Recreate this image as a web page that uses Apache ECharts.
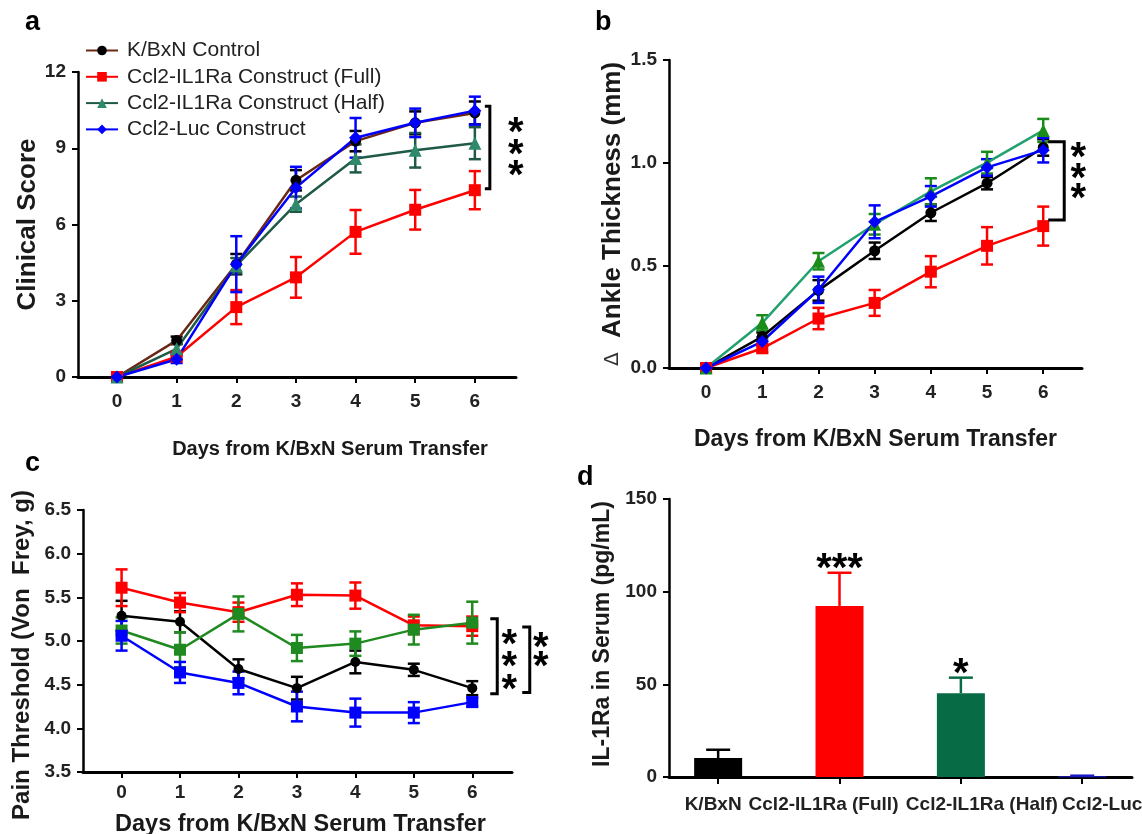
<!DOCTYPE html>
<html>
<head>
<meta charset="utf-8">
<script src="https://cdn.jsdelivr.net/npm/echarts@6/dist/echarts.min.js"></script>
<style>
  html, body { margin: 0; padding: 0; background: #fff; }
  #chart { width: 1142px; height: 834px; }
</style>
</head>
<body>
<div id="chart"></div>
<script>
// days after serum transfer
var days = [0, 1, 2, 3, 4, 5, 6];

// a: clinical score
var aControl = [0, 1.44, 4.44, 7.74, 9.28, 10.0, 10.39];
var aControlErr = [0, 0.15, 0.4, 0.4, 0.4, 0.45, 0.45];
var aFull = [0, 0.8, 2.75, 3.92, 5.71, 6.58, 7.35];
var aFullErr = [0, 0.15, 0.67, 0.8, 0.86, 0.78, 0.75];
var aHalf = [0, 1.11, 4.38, 6.8, 8.6, 8.92, 9.2];
var aHalfErr = [0, 0.2, 0.3, 0.3, 0.55, 0.68, 0.63];
var aLuc = [0, 0.7, 4.44, 7.45, 9.41, 10.0, 10.48];
var aLucErr = [0, 0.15, 1.1, 0.82, 0.78, 0.56, 0.55];

// b: delta ankle thickness (mm)
var bControl = [0, 0.153, 0.378, 0.571, 0.756, 0.9, 1.074];
var bControlErr = [0, 0.02, 0.05, 0.04, 0.04, 0.03, 0.04];
var bFull = [0, 0.096, 0.241, 0.317, 0.469, 0.595, 0.691];
var bFullErr = [0.02, 0.02, 0.052, 0.063, 0.076, 0.091, 0.095];
var bHalf = [0, 0.22, 0.52, 0.7, 0.86, 1.0, 1.157];
var bHalfErr = [0, 0.037, 0.04, 0.05, 0.064, 0.053, 0.056];
var bLuc = [0, 0.129, 0.381, 0.712, 0.836, 0.977, 1.061];
var bLucErr = [0, 0.02, 0.064, 0.08, 0.05, 0.04, 0.06];

// c: pain threshold (von frey, g)
var cControl = [5.29, 5.22, 4.68, 4.46, 4.76, 4.67, 4.46];
var cControlErr = [0.17, 0.12, 0.11, 0.13, 0.13, 0.07, 0.08];
var cFull = [5.61, 5.44, 5.33, 5.53, 5.52, 5.18, 5.17];
var cFullErr = [0.21, 0.11, 0.11, 0.13, 0.15, 0.1, 0.11];
var cHalf = [5.12, 4.9, 5.31, 4.92, 4.97, 5.13, 5.21];
var cHalfErr = [0.15, 0.2, 0.2, 0.15, 0.14, 0.17, 0.24];
var cLuc = [5.06, 4.64, 4.52, 4.25, 4.18, 4.18, 4.3];
var cLucErr = [0.17, 0.12, 0.13, 0.17, 0.16, 0.12, 0.05];

// d: serum IL-1Ra
var dGroups = ['K/BxN', 'Ccl2-IL1Ra (Full)', 'Ccl2-IL1Ra (Half)', 'Ccl2-Luc'];
var dValues = [10.2, 92.3, 45.2, 0.4];
var dErr = [4.5, 17.9, 8.4, 0.3];
var dStars = ['', '***', '*', ''];

var legendNames = ['K/BxN Control', 'Ccl2-IL1Ra Construct (Full)', 'Ccl2-IL1Ra Construct (Half)', 'Ccl2-Luc Construct'];

var FONT = 'Liberation Sans';
var chart = echarts.init(document.getElementById('chart'), null, { renderer: 'canvas' });

function pairs(vals) {
  return vals.map(function (v, i) { return [days[i], v]; });
}

function errSeries(idx, vals, errs, color, capW) {
  return {
    type: 'custom',
    xAxisIndex: idx, yAxisIndex: idx,
    z: 1,
    silent: true,
    encode: { x: 0, y: 1 },
    data: vals.map(function (v, i) { return [days[i], v, errs[i]]; }),
    renderItem: function (params, api) {
      var x = api.value(0), y = api.value(1), e = api.value(2);
      var hi = api.coord([x, y + e]);
      var lo = api.coord([x, y - e]);
      var st = { stroke: color, lineWidth: 2.5, fill: null };
      return {
        type: 'group',
        children: [
          { type: 'line', shape: { x1: hi[0], y1: hi[1], x2: lo[0], y2: lo[1] }, style: st },
          { type: 'line', shape: { x1: hi[0] - capW / 2, y1: hi[1], x2: hi[0] + capW / 2, y2: hi[1] }, style: st },
          { type: 'line', shape: { x1: lo[0] - capW / 2, y1: lo[1], x2: lo[0] + capW / 2, y2: lo[1] }, style: st }
        ]
      };
    }
  };
}

function lineSeries(idx, name, vals, lineColor, markColor, symbol, size) {
  return {
    name: name,
    type: 'line',
    xAxisIndex: idx, yAxisIndex: idx,
    z: 3,
    data: pairs(vals),
    symbol: symbol,
    symbolSize: size,
    showAllSymbol: true,
    lineStyle: { color: lineColor, width: 2.5 },
    itemStyle: { color: markColor, borderWidth: 0 },
    emphasis: { disabled: true }
  };
}

// significance bracket between [x, top] and [x, bottom]
function bracketSeries(idx, x, top, bottom, tickFrom, lineAt, stars, starDx, starDy, starGap) {
  return {
    type: 'custom',
    xAxisIndex: idx, yAxisIndex: idx,
    z: 4,
    silent: true,
    data: [[x, top, bottom]],
    renderItem: function (params, api) {
      var p1 = api.coord([api.value(0), api.value(1)]);
      var p2 = api.coord([api.value(0), api.value(2)]);
      var mid = (p1[1] + p2[1]) / 2 + starDy;
      return {
        type: 'group',
        children: [
          {
            type: 'polyline',
            shape: { points: [[p1[0] + tickFrom, p1[1]], [p1[0] + lineAt, p1[1]], [p1[0] + lineAt, p2[1]], [p1[0] + tickFrom, p2[1]]] },
            style: { stroke: '#000', lineWidth: 3, fill: null }
          },
          {
            type: 'text',
            x: p1[0] + lineAt + starDx, y: mid,
            style: {
              text: stars.split('').join('\n'),
              font: 'bold 40px ' + FONT,
              lineHeight: starGap,
              fill: '#000',
              align: 'center',
              verticalAlign: 'middle'
            }
          }
        ]
      };
    }
  };
}

function xAxisDays(idx, min, max, name, gap, size, margin, pad) {
  return {
    type: 'value', gridIndex: idx, min: min, max: max,
    name: name, nameLocation: 'middle', nameGap: gap,
    nameTextStyle: { fontFamily: FONT, fontWeight: 'bold', fontSize: size, color: '#1a1a1a', padding: pad || 0 },
    splitLine: { show: false },
    axisLine: { onZero: false, lineStyle: { color: '#000', width: 3 } },
    axisTick: { customValues: days, length: 6, lineStyle: { color: '#000', width: 2 } },
    axisLabel: { customValues: days, margin: margin, fontFamily: FONT, fontWeight: 'bold', fontSize: 19, color: '#222' }
  };
}

function yAxisVal(idx, min, max, interval, name, gap, size, fmt, rich, pad) {
  return {
    type: 'value', gridIndex: idx, min: min, max: max, interval: interval,
    name: name, nameLocation: 'middle', nameGap: gap,
    nameTextStyle: { fontFamily: FONT, fontWeight: 'bold', fontSize: size, color: '#1a1a1a', rich: rich, padding: pad || 0 },
    splitLine: { show: false },
    axisLine: { show: true, onZero: false, lineStyle: { color: '#000', width: 2.5 } },
    axisTick: { show: true, length: 6, lineStyle: { color: '#000', width: 2 } },
    axisLabel: { margin: 12, fontFamily: FONT, fontWeight: 'bold', fontSize: 19, color: '#222', formatter: fmt }
  };
}

var deltaRich = { d: { fontFamily: 'DejaVu Sans', fontWeight: 'normal', fontSize: 20, color: '#333' } };

function dLabelStyle(padding) {
  return { fontFamily: FONT, fontWeight: 'bold', fontSize: 19, color: '#222', padding: padding };
}

var option = {
  backgroundColor: '#fff',
  animation: false,
  grid: [
    { left: 78, top: 72, width: 438, height: 305, outerBoundsMode: 'none' },
    { left: 669, top: 60, width: 413, height: 308, outerBoundsMode: 'none' },
    { left: 83, top: 510, width: 429, height: 262, outerBoundsMode: 'none' },
    { left: 669, top: 499, width: 463, height: 278, outerBoundsMode: 'none' }
  ],
  legend: {
    data: legendNames,
    orient: 'vertical',
    left: 85, top: 40,
    padding: 0,
    itemWidth: 32, itemHeight: 12, itemGap: 5.3,
    textStyle: { fontFamily: FONT, fontSize: 21, color: '#222', lineHeight: 19, padding: [0, 0, 0, 4] },
    selectedMode: false
  },
  xAxis: [
    xAxisDays(0, -0.654, 6.69, 'Days from K/BxN Serum Transfer', 62, 20, 15, [0, 0, 0, 66]),
    xAxisDays(1, -0.66, 6.69, 'Days from K/BxN Serum Transfer', 60, 23, 15),
    xAxisDays(2, -0.66, 6.68, 'Days from K/BxN Serum Transfer', 41, 23.5, 11, [0, 0, 0, 6]),
    {
      type: 'value', gridIndex: 3, min: -0.405, max: 3.41,
      splitLine: { show: false },
      axisLine: { onZero: false, lineStyle: { color: '#000', width: 3 } },
      axisTick: { customValues: [0, 1, 2, 3], length: 7, lineStyle: { color: '#000', width: 2 } },
      axisLabel: {
        customValues: [0, 1, 2, 3], margin: 18,
        fontFamily: FONT, fontWeight: 'bold', fontSize: 19, color: '#222',
        formatter: function (v) { var i = Math.round(v); return '{l' + i + '|' + dGroups[i] + '}'; },
        rich: {
          l0: dLabelStyle([0, 10, 0, 0]),
          l1: dLabelStyle([0, 32, 0, 0]),
          l2: dLabelStyle([0, 0, 0, 42]),
          l3: dLabelStyle([0, 0, 0, 40])
        }
      }
    }
  ],
  yAxis: [
    yAxisVal(0, 0, 12, 3, 'Clinical Score', 37, 26),
    yAxisVal(1, 0, 1.5, 0.5, '{d|Δ}  Ankle Thickness (mm)', 43, 26, function (v) { return v.toFixed(1); }, deltaRich),
    yAxisVal(2, 3.5, 6.5, 0.5, 'Pain Threshold (Von  Frey, g)', 49, 24, function (v) { return v.toFixed(1); }, null, [0, 28, 0, 0]),
    yAxisVal(3, 0, 150, 50, 'IL-1Ra in Serum (pg/mL)', 55, 23, null, null, [0, 0, 0, 8])
  ],
  graphic: [
    { type: 'text', left: 25, top: 9, style: { text: 'a', font: 'bold 27px ' + FONT, fill: '#000' } },
    { type: 'text', left: 595, top: 9, style: { text: 'b', font: 'bold 27px ' + FONT, fill: '#000' } },
    { type: 'text', left: 25, top: 450, style: { text: 'c', font: 'bold 27px ' + FONT, fill: '#000' } },
    { type: 'text', left: 577, top: 464, style: { text: 'd', font: 'bold 27px ' + FONT, fill: '#000' } }
  ],
  series: [
    // a
    errSeries(0, aControl, aControlErr, '#000', 12),
    errSeries(0, aFull, aFullErr, '#ff0000', 12),
    errSeries(0, aHalf, aHalfErr, '#1f5a46', 12),
    errSeries(0, aLuc, aLucErr, '#0000ff', 12),
    lineSeries(0, legendNames[0], aControl, '#6a2814', '#000', 'circle', 11),
    lineSeries(0, legendNames[1], aFull, '#ff0000', '#ff0000', 'rect', 12),
    lineSeries(0, legendNames[2], aHalf, '#1f5a46', '#2f8a6a', 'triangle', 13),
    lineSeries(0, legendNames[3], aLuc, '#0000ff', '#0000ff', 'diamond', 13),
    bracketSeries(0, 6, 10.65, 7.41, 10, 15, '***', 26, 8, 21.5),
    // b
    errSeries(1, bControl, bControlErr, '#000', 12),
    errSeries(1, bFull, bFullErr, '#ff0000', 12),
    errSeries(1, bHalf, bHalfErr, '#1a8c1a', 12),
    errSeries(1, bLuc, bLucErr, '#0000ff', 12),
    lineSeries(1, 'b-control', bControl, '#000', '#000', 'circle', 11),
    lineSeries(1, 'b-full', bFull, '#ff0000', '#ff0000', 'rect', 12),
    lineSeries(1, 'b-half', bHalf, '#22a06e', '#1a8c1a', 'triangle', 13),
    lineSeries(1, 'b-luc', bLuc, '#0000ff', '#0000ff', 'diamond', 13),
    bracketSeries(1, 6, 1.102, 0.721, 5, 21, '***', 14, -1, 20.5),
    // c
    errSeries(2, cControl, cControlErr, '#000', 12),
    errSeries(2, cFull, cFullErr, '#ff0000', 12),
    errSeries(2, cHalf, cHalfErr, '#1f8a1f', 12),
    errSeries(2, cLuc, cLucErr, '#0000ff', 12),
    lineSeries(2, 'c-control', cControl, '#000', '#000', 'circle', 10),
    lineSeries(2, 'c-full', cFull, '#ff0000', '#ff0000', 'rect', 12),
    lineSeries(2, 'c-half', cHalf, '#1f8a1f', '#1f8a1f', 'rect', 12),
    lineSeries(2, 'c-luc', cLuc, '#0000ff', '#0000ff', 'rect', 12),
    bracketSeries(2, 6, 5.255, 4.397, 18, 25, '***', 12, 12, 22.5),
    bracketSeries(2, 6, 5.16, 4.41, 50, 57.5, '**', 11, -1, 19),
    // d
    {
      type: 'custom',
      xAxisIndex: 3, yAxisIndex: 3,
      z: 2,
      silent: true,
      data: dValues.map(function (v, i) { return [i, v, dErr[i]]; }),
      renderItem: function (params, api) {
        var colors = ['#000', '#ff0000', '#076b45', '#1a1acc'];
        var i = params.dataIndex;
        var base = api.coord([api.value(0), 0]);
        var top = api.coord([api.value(0), api.value(1)]);
        var hi = api.coord([api.value(0), api.value(1) + api.value(2)]);
        var c = colors[i];
        var st = { stroke: c, lineWidth: 2.5, fill: null };
        return {
          type: 'group',
          children: [
            { type: 'rect', shape: { x: base[0] - 24, y: top[1], width: 48, height: Math.max(base[1] - top[1], 1) }, style: { fill: c } },
            { type: 'line', shape: { x1: hi[0], y1: hi[1], x2: top[0], y2: top[1] }, style: st },
            { type: 'line', shape: { x1: hi[0] - 12, y1: hi[1], x2: hi[0] + 12, y2: hi[1] }, style: st },
            {
              type: 'text', x: hi[0], y: hi[1] - 3,
              style: { text: dStars[i], font: 'bold 40px ' + FONT, fill: '#000', align: 'center', verticalAlign: 'middle' }
            }
          ]
        };
      }
    }
  ]
};

chart.setOption(option);
</script>
</body>
</html>
